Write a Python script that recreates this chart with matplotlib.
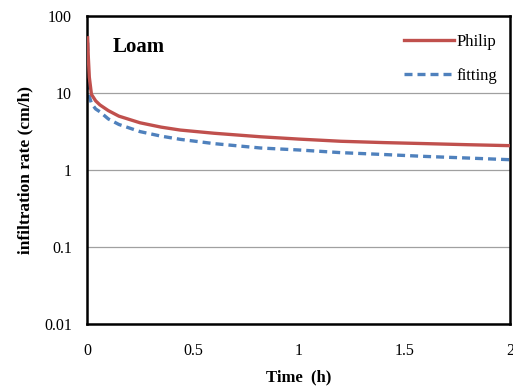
import matplotlib
matplotlib.use("Agg")
import matplotlib.pyplot as plt
from matplotlib.ticker import FixedLocator, FixedFormatter, NullLocator

# values
time_h = [0.002, 0.005, 0.01, 0.02, 0.04, 0.06, 0.1, 0.15, 0.25, 0.35, 0.44, 0.6,
          0.82, 1.0, 1.2, 1.4, 1.6, 1.8, 2.0]
philip = [52, 30, 16, 9.6, 7.9, 7.0, 5.9, 5.0, 4.1, 3.6, 3.3, 3.0,
          2.7, 2.52, 2.36, 2.27, 2.2, 2.13, 2.07]
fitting = [45, 12, 9.0, 7.3, 6.2, 5.7, 4.6, 3.9, 3.15, 2.75, 2.5, 2.2,
           1.93, 1.82, 1.68, 1.59, 1.50, 1.43, 1.36]

x_ticks = [0, 0.5, 1, 1.5, 2]
x_labels = ["0", "0.5", "1", "1.5", "2"]
y_ticks = [0.01, 0.1, 1, 10, 100]
y_labels = ["0.01", "0.1", "1", "10", "100"]

plt.rcParams['font.family'] = ['Liberation Serif', 'DejaVu Serif']

fig = plt.figure(figsize=(5.13, 3.89), dpi=100)
ax = fig.add_axes([0.170, 0.167, 0.824, 0.792])

ax.plot(time_h, philip, color="#C0504D", lw=2.4, label="Philip", zorder=3)
ax.plot(time_h, fitting, color="#4F81BD", lw=2.4, ls=(0, (2.4, 1.5)), label="fitting", zorder=2)

ax.set_yscale("log")
ax.set_xlim(0, 2)
ax.set_ylim(0.01, 100)
ax.xaxis.set_major_locator(FixedLocator(x_ticks))
ax.xaxis.set_major_formatter(FixedFormatter(x_labels))
ax.yaxis.set_major_locator(FixedLocator(y_ticks))
ax.yaxis.set_major_formatter(FixedFormatter(y_labels))
ax.yaxis.set_minor_locator(NullLocator())
ax.tick_params(length=0, labelsize=11.5)
ax.tick_params(axis="x", pad=14)
ax.tick_params(axis="y", pad=11)
ax.grid(axis="y", color="#A0A0A0", lw=0.9)
for s in ax.spines.values():
    s.set_linewidth(1.8)

ax.set_xlabel("Time  (h)", fontsize=12, fontweight="bold", labelpad=7)
ax.set_ylabel("infiltration rate (cm/h)", fontsize=12.5, fontweight="bold", labelpad=8)
ax.text(0.06, 0.9, "Loam", transform=ax.transAxes, fontsize=15, fontweight="bold", va="center")

ax.legend(loc="upper right", bbox_to_anchor=(0.985, 0.963), frameon=False, fontsize=12,
          handlelength=3.0, handletextpad=0.15, labelspacing=1.05, borderaxespad=0.0)

fig.savefig("out.png", dpi=100)
